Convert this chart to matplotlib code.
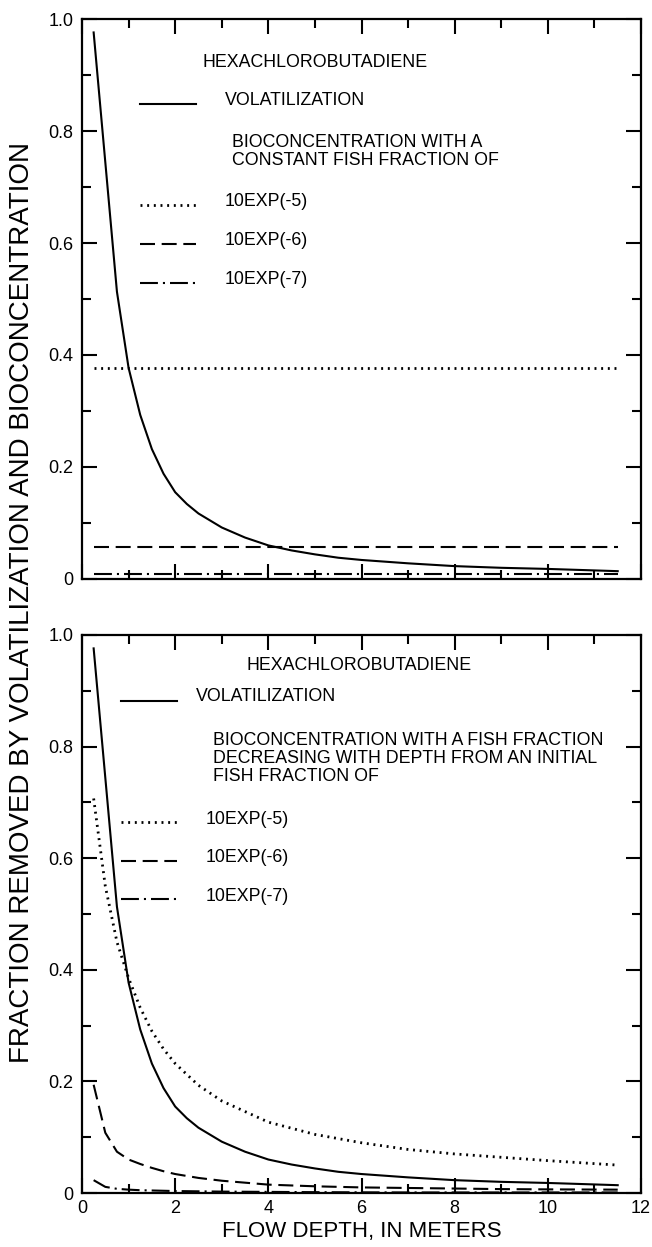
import matplotlib
matplotlib.use("Agg")
import matplotlib.pyplot as plt
from matplotlib.ticker import MultipleLocator, FixedLocator, FixedFormatter

plt.rcParams['font.family'] = ['Liberation Sans', 'DejaVu Sans']

# ---------------- data ----------------
depth_vol = [0.25, 0.75, 1.0, 1.25, 1.5, 1.75, 2.0, 2.25, 2.5, 3.0, 3.5, 4.0, 4.5,
             5.0, 5.5, 6.0, 7.0, 8.0, 9.0, 10.0, 11.5]
volatilization = [0.976, 0.513, 0.377, 0.293, 0.232, 0.188, 0.155, 0.134, 0.117,
                  0.092, 0.074, 0.060, 0.051, 0.044, 0.038, 0.034, 0.028, 0.023,
                  0.020, 0.018, 0.014]

depth_const = [0.25, 11.5]
const_e5 = [0.377, 0.377]
const_e6 = [0.058, 0.058]
const_e7 = [0.0095, 0.0095]

depth_dec = [0.25, 0.5, 0.75, 1.0, 1.25, 1.5, 1.75, 2.0, 2.5, 3.0, 4.0, 5.0,
             6.0, 7.0, 8.0, 9.0, 10.0, 11.5]
dec_e5 = [0.707, 0.55, 0.45, 0.385, 0.332, 0.29, 0.258, 0.232, 0.193, 0.165,
          0.127, 0.105, 0.090, 0.078, 0.070, 0.064, 0.058, 0.050]
dec_e6 = [0.194, 0.108, 0.074, 0.060, 0.052, 0.045, 0.039, 0.034, 0.027, 0.022,
          0.015, 0.012, 0.010, 0.009, 0.008, 0.007, 0.0065, 0.006]
dec_e7 = [0.023, 0.011, 0.0075, 0.006, 0.005, 0.0045, 0.004, 0.0035, 0.003,
          0.0025, 0.002, 0.0015, 0.0012, 0.001, 0.001, 0.001, 0.001, 0.001]

x_ticks = [0, 2, 4, 6, 8, 10, 12]
x_ticklabels = ['0', '2', '4', '6', '8', '10', '12']
y_ticks = [0, 0.2, 0.4, 0.6, 0.8, 1.0]
y_ticklabels = ['0', '0.2', '0.4', '0.6', '0.8', '1.0']

series_labels = ['10EXP(-5)', '10EXP(-6)', '10EXP(-7)']
title_text = 'HEXACHLOROBUTADIENE'
vol_label = 'VOLATILIZATION'
top_note = 'BIOCONCENTRATION WITH A\nCONSTANT FISH FRACTION OF'
bot_note = ('BIOCONCENTRATION WITH A FISH FRACTION\n'
            'DECREASING WITH DEPTH FROM AN INITIAL\nFISH FRACTION OF')

# ---------------- styles ----------------
LW = 1.5
ST_SOLID = '-'
ST_DOT = (0, (0.7, 1.7))
ST_DASH = (0, (7.2, 3.2))
ST_DASHDOT = (0, (8.6, 2.4, 1.0, 2.4))
styles = [ST_DOT, ST_DASH, ST_DASHDOT]
widths = [2.0, LW, LW]
FS = 12.8

W, H = 652, 1247
fig = plt.figure(figsize=(W / 100, H / 100), dpi=100)

def frac_axes(left, top, right, bottom):
    return fig.add_axes([left / W, 1 - bottom / H, (right - left) / W, (bottom - top) / H])

ax1 = frac_axes(82, 19, 641, 579)
ax2 = frac_axes(82, 635, 641, 1193)

for ax in (ax1, ax2):
    ax.set_xlim(0, 12)
    ax.set_ylim(0, 1)
    ax.xaxis.set_major_locator(FixedLocator(x_ticks))
    ax.xaxis.set_minor_locator(MultipleLocator(1))
    ax.yaxis.set_major_locator(FixedLocator(y_ticks))
    ax.yaxis.set_major_formatter(FixedFormatter(y_ticklabels))
    ax.yaxis.set_minor_locator(MultipleLocator(0.1))
    ax.tick_params(which='major', direction='in', length=11, width=1.5,
                   top=True, right=True, labelsize=13, pad=6)
    ax.tick_params(which='minor', direction='in', length=6.5, width=1.5,
                   top=True, right=True)
    for s in ax.spines.values():
        s.set_linewidth(1.6)

ax1.tick_params(labelbottom=False)
ax2.xaxis.set_major_formatter(FixedFormatter(x_ticklabels))
ax2.tick_params(axis='x', pad=5)

# ---- top panel ----
ax1.plot(depth_vol, volatilization, color='black', lw=LW, ls=ST_SOLID)
for vals, st, w in zip([const_e5, const_e6, const_e7], styles, widths):
    ax1.plot(depth_const, vals, color='black', lw=w, ls=st)

ax1.text(2.58, 0.923, title_text, fontsize=FS, va='center', ha='left')
ax1.plot([1.245, 2.44], [0.849, 0.849], color='black', lw=LW, ls=ST_SOLID)
ax1.text(3.07, 0.855, vol_label, fontsize=FS, va='center', ha='left')
ax1.text(3.23, 0.763, top_note, fontsize=FS, va='center', ha='left', linespacing=1.1)
leg_y_top = [0.668, 0.599, 0.529]
for yy, st, w, lab in zip(leg_y_top, styles, widths, series_labels):
    ax1.plot([1.245, 2.44], [yy, yy], color='black', lw=w, ls=st)
    ax1.text(3.07, yy + 0.006, lab, fontsize=FS, va='center', ha='left')

# ---- bottom panel ----
ax2.plot(depth_vol, volatilization, color='black', lw=LW, ls=ST_SOLID)
for vals, st, w in zip([dec_e5, dec_e6, dec_e7], styles, widths):
    ax2.plot(depth_dec, vals, color='black', lw=w, ls=st)

ax2.text(3.53, 0.946, title_text, fontsize=FS, va='center', ha='left')
ax2.plot([0.837, 2.03], [0.882, 0.882], color='black', lw=LW, ls=ST_SOLID)
ax2.text(2.45, 0.889, vol_label, fontsize=FS, va='center', ha='left')
ax2.text(2.82, 0.779, bot_note, fontsize=FS, va='center', ha='left', linespacing=1.1)
leg_y_bot = [0.664, 0.595, 0.526]
for yy, st, w, lab in zip(leg_y_bot, styles, widths, series_labels):
    ax2.plot([0.837, 2.03], [yy, yy], color='black', lw=w, ls=st)
    ax2.text(2.66, yy + 0.006, lab, fontsize=FS, va='center', ha='left')

# ---- axis labels ----
fig.text(361.5 / W, 1 - 1231 / H, 'FLOW DEPTH, IN METERS', fontsize=16,
         ha='center', va='center')
fig.text(22 / W, 1 - 602.5 / H,
         'FRACTION REMOVED BY VOLATILIZATION AND BIOCONCENTRATION',
         fontsize=20, rotation=90, ha='center', va='center')

fig.savefig('out.png', dpi=100, facecolor='white')
